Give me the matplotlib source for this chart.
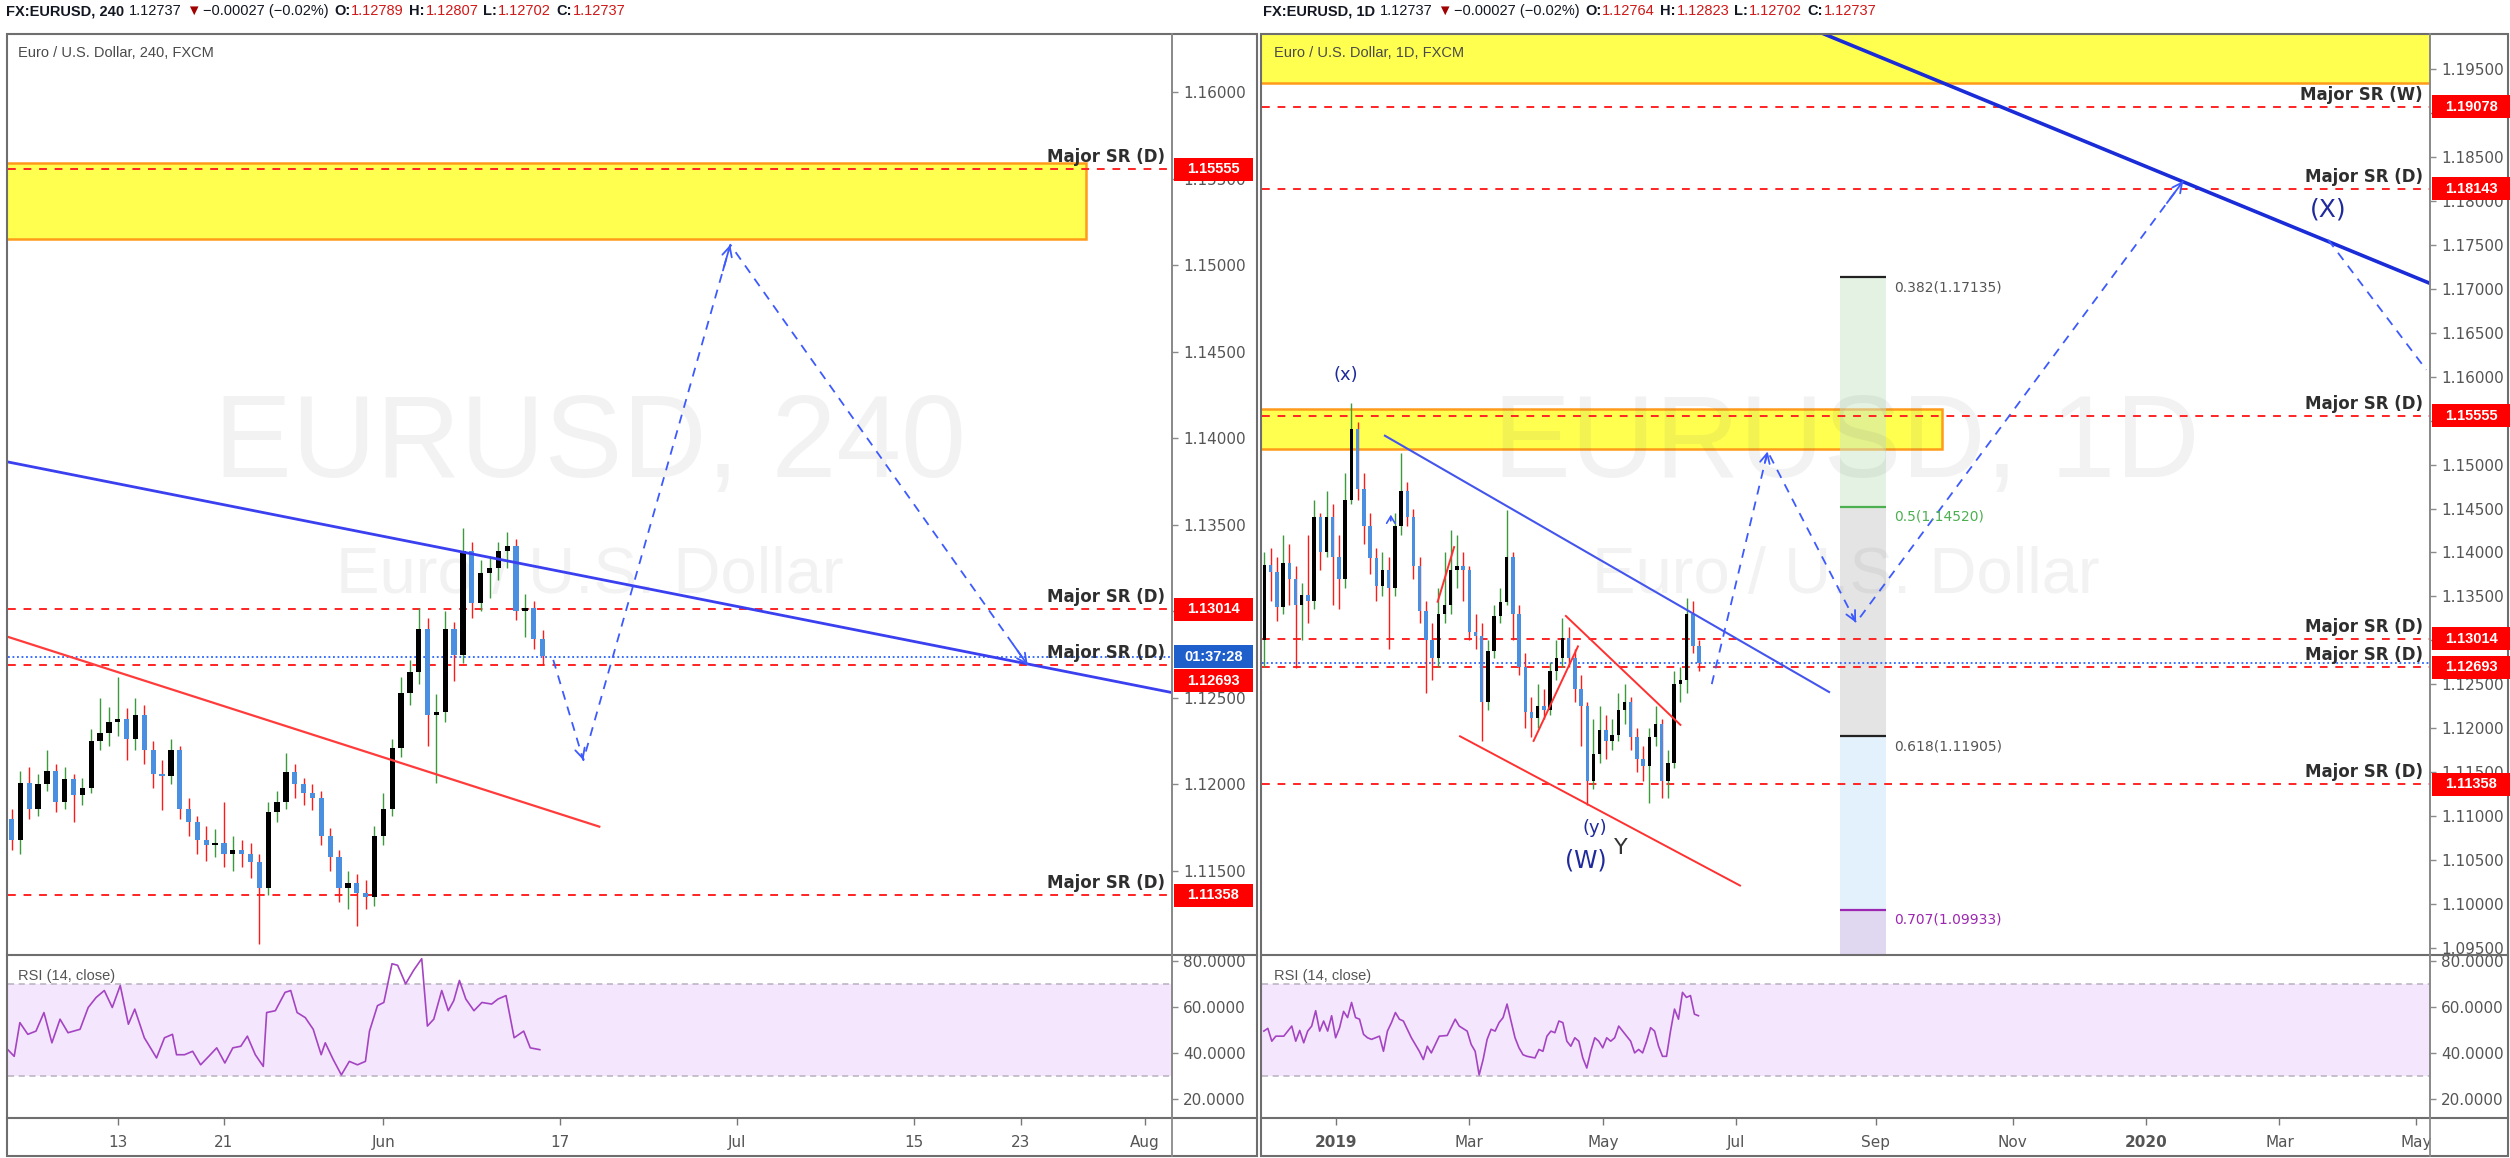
import numpy as np
import matplotlib
matplotlib.use('Agg')
import matplotlib.pyplot as plt
from matplotlib.patches import Rectangle
from matplotlib.lines import Line2D
from matplotlib.ticker import FormatStrFormatter

plt.rcParams['font.family'] = ['DejaVu Sans']

W, H, DPI = 2510, 1158, 100

# ======================= DATA =======================
# ---- left chart (4h), x = trading days from 13 May 2019 ----
left_days = np.arange(-6.0, 24.01, 0.5)
left_open0 = 1.1180
left_close = [1.1168, 1.1201, 1.1186, 1.1200, 1.1208, 1.1190, 1.1203, 1.1194, 1.1198, 1.1225,
              1.1230, 1.1236, 1.1238, 1.1226, 1.1240, 1.1220, 1.1206, 1.1205, 1.1220, 1.1186,
              1.1178, 1.1168, 1.1165, 1.1166, 1.1160, 1.1162, 1.1160, 1.1155, 1.1140, 1.1184,
              1.1190, 1.1207, 1.1200, 1.1195, 1.1192, 1.1170, 1.1158, 1.1140, 1.1143, 1.1137,
              1.1135, 1.1170, 1.1186, 1.1221, 1.1253, 1.1265, 1.1290, 1.1240, 1.1242, 1.1290,
              1.1275, 1.1335, 1.1305, 1.1322, 1.1325, 1.1335, 1.1338, 1.1300, 1.1302, 1.1284,
              1.1274]
left_high = [1.1186, 1.1208, 1.1210, 1.1206, 1.1220, 1.1212, 1.1210, 1.1206, 1.1204, 1.1232,
             1.1250, 1.1245, 1.1262, 1.1244, 1.1250, 1.1246, 1.1225, 1.1214, 1.1226, 1.1222,
             1.1192, 1.1182, 1.1176, 1.1174, 1.1190, 1.1170, 1.1168, 1.1166, 1.1160, 1.1190,
             1.1196, 1.1218, 1.1212, 1.1204, 1.1200, 1.1196, 1.1175, 1.1162, 1.1150, 1.1148,
             1.1145, 1.1176, 1.1195, 1.1226, 1.1262, 1.1272, 1.1302, 1.1296, 1.1252, 1.1300,
             1.1294, 1.1348, 1.1340, 1.1330, 1.1332, 1.1340, 1.1346, 1.1342, 1.1310, 1.1306,
             1.1289]
left_low = [1.1162, 1.1160, 1.1180, 1.1182, 1.1196, 1.1184, 1.1186, 1.1178, 1.1188, 1.1195,
            1.1220, 1.1222, 1.1228, 1.1214, 1.1220, 1.1212, 1.1198, 1.1185, 1.1200, 1.1180,
            1.1170, 1.1160, 1.1156, 1.1158, 1.1152, 1.1150, 1.1152, 1.1146, 1.1108, 1.1136,
            1.1178, 1.1186, 1.1192, 1.1188, 1.1185, 1.1165, 1.1150, 1.1132, 1.1128, 1.1118,
            1.1128, 1.1130, 1.1165, 1.1182, 1.1216, 1.1246, 1.1258, 1.1222, 1.1201, 1.1236,
            1.1260, 1.1270, 1.1296, 1.1300, 1.1308, 1.1318, 1.1325, 1.1295, 1.1285, 1.1278,
            1.1269]
left_rsi_days = [-6.21, -5.85, -5.53, -5.08, -4.62, -4.17, -3.72, -3.26, -2.81, -2.13,
                 -1.67, -1.22, -0.76, -0.31, 0.14, 0.60, 0.96, 1.50, 1.73, 2.19,
                 2.64, 3.09, 3.32, 3.77, 4.23, 4.68, 5.14, 5.59, 6.05, 6.50,
                 6.95, 7.32, 7.77, 8.22, 8.41, 8.90, 9.45, 9.77, 10.13, 10.59,
                 11.04, 11.49, 11.72, 12.17, 12.63, 13.08, 13.54, 13.99, 14.22, 14.67,
                 15.03, 15.49, 15.81, 16.26, 16.71, 17.17, 17.49, 17.85, 18.30, 18.67,
                 18.98, 19.30, 19.66, 20.12, 20.57, 21.12, 21.48, 21.93, 22.39, 22.93,
                 23.30, 23.84]
left_rsi = [41.3, 38.4, 53.1, 48.0, 49.4, 57.5, 44.3, 54.6, 48.7, 50.2,
            59.7, 64.1, 67.1, 59.7, 69.3, 52.4, 59.0, 46.5, 43.6, 37.7,
            46.5, 48.0, 39.1, 39.1, 40.6, 34.7, 38.4, 42.1, 35.5, 42.1,
            42.8, 47.2, 39.1, 34.0, 57.5, 58.3, 66.3, 67.1, 57.5, 55.3,
            50.2, 39.1, 44.3, 37.0, 30.3, 36.2, 34.7, 36.2, 49.4, 60.5,
            61.9, 78.8, 78.1, 70.0, 75.9, 81.0, 51.6, 54.6, 67.1, 58.3,
            62.7, 71.5, 63.4, 58.3, 61.9, 61.2, 63.4, 64.9, 46.5, 49.4,
            42.1, 41.3]
left_tick_days = [0, 6, 15, 25, 35, 45, 51, 58]
left_tick_labels = ['13', '21', 'Jun', '17', 'Jul', '15', '23', 'Aug']
left_xlim = (-6.2, 59.55)
left_ylim = (1.11014, 1.16338)
left_yticks = [1.115, 1.120, 1.125, 1.130, 1.135, 1.140, 1.145, 1.150, 1.155, 1.160]
left_levels = [1.15555, 1.13014, 1.12693, 1.11358]
left_level_names = ['Major SR (D)', 'Major SR (D)', 'Major SR (D)', 'Major SR (D)']
left_zone = (1.15153, 1.15592)
left_zone_end = 54.7
left_blue_trend = ([-6.2, 59.55], [1.13864, 1.12531])
left_red_trend = ([-6.2, 27.2], [1.12853, 1.11756])
left_proj_days = [24.6, 26.3, 34.6, 51.4]
left_proj_prices = [1.1272, 1.1214, 1.1512, 1.1269]
current_price = 1.12737
countdown = '01:37:28'

# ---- right chart (1D), x = trading days from 1 Jan 2019 ----
right_days = np.arange(-23, 117.1, 2)
right_open0 = 1.1300
right_close = [1.1386, 1.1378, 1.1338, 1.1388, 1.1370, 1.1340, 1.1352, 1.1345, 1.1440, 1.1400,
               1.1440, 1.1395, 1.1370, 1.1460, 1.1541, 1.1472, 1.1430, 1.1394, 1.1362, 1.1380,
               1.1360, 1.1430, 1.1470, 1.1440, 1.1385, 1.1333, 1.1300, 1.1280, 1.1330, 1.1340,
               1.1380, 1.1385, 1.1380, 1.1309, 1.1305, 1.1230, 1.1288, 1.1328, 1.1344, 1.1395,
               1.1330, 1.1270, 1.1218, 1.1211, 1.1225, 1.1220, 1.1265, 1.1280, 1.1303, 1.1280,
               1.1245, 1.1225, 1.1140, 1.1170, 1.1198, 1.1185, 1.1192, 1.1220, 1.1230, 1.1190,
               1.1165, 1.1157, 1.1190, 1.1205, 1.1140, 1.1160, 1.1250, 1.1255, 1.1330, 1.1293,
               1.1274]
right_high = [1.1400, 1.1405, 1.1395, 1.1420, 1.1410, 1.1384, 1.1365, 1.1420, 1.1460, 1.1445,
              1.1470, 1.1455, 1.1420, 1.1490, 1.1570, 1.1548, 1.1490, 1.1445, 1.1405, 1.1400,
              1.1395, 1.1445, 1.1513, 1.1480, 1.1450, 1.1395, 1.1345, 1.1320, 1.1360, 1.1400,
              1.1425, 1.1420, 1.1400, 1.1385, 1.1330, 1.1320, 1.1300, 1.1340, 1.1360, 1.1448,
              1.1400, 1.1340, 1.1285, 1.1235, 1.1250, 1.1245, 1.1275, 1.1300, 1.1325, 1.1315,
              1.1290, 1.1260, 1.1230, 1.1210, 1.1225, 1.1215, 1.1210, 1.1240, 1.1250, 1.1235,
              1.1200, 1.1180, 1.1200, 1.1225, 1.1210, 1.1175, 1.1265, 1.1270, 1.1348, 1.1345,
              1.1300]
right_low = [1.1269, 1.1345, 1.1322, 1.1330, 1.1340, 1.1268, 1.1300, 1.1320, 1.1335, 1.1380,
             1.1395, 1.1340, 1.1335, 1.1360, 1.1455, 1.1460, 1.1410, 1.1375, 1.1345, 1.1350,
             1.1290, 1.1350, 1.1420, 1.1430, 1.1370, 1.1320, 1.1240, 1.1255, 1.1270, 1.1320,
             1.1330, 1.1360, 1.1345, 1.1300, 1.1290, 1.1185, 1.1220, 1.1280, 1.1320, 1.1340,
             1.1300, 1.1260, 1.1200, 1.1190, 1.1200, 1.1210, 1.1215, 1.1255, 1.1270, 1.1270,
             1.1230, 1.1180, 1.1112, 1.1130, 1.1160, 1.1165, 1.1175, 1.1185, 1.1205, 1.1175,
             1.1150, 1.1140, 1.1115, 1.1180, 1.1120, 1.1120, 1.1155, 1.1230, 1.1240, 1.1285,
             1.1265]
right_rsi_days = [-23.21, -21.92, -20.64, -19.35, -16.78, -15.50, -14.21, -12.93, -11.65, -10.36,
                  -9.08, -7.79, -6.51, -5.22, -3.94, -2.65, -1.37, -0.08, 1.20, 2.48,
                  3.77, 5.05, 6.34, 7.62, 8.91, 10.19, 11.48, 14.05, 15.33, 16.61,
                  17.90, 19.18, 20.47, 21.75, 24.32, 26.89, 28.17, 29.46, 30.74, 33.31,
                  35.88, 38.45, 39.74, 42.30, 43.59, 44.87, 46.16, 47.44, 48.73, 50.01,
                  51.30, 52.58, 53.87, 55.15, 56.43, 57.72, 59.00, 60.29, 61.57, 64.14,
                  65.43, 66.71, 68.00, 69.28, 70.56, 71.85, 73.13, 74.42, 75.70, 76.99,
                  78.27, 79.55, 80.84, 82.12, 83.41, 84.69, 85.98, 87.26, 88.55, 89.83,
                  91.12, 92.40, 93.68, 94.97, 96.25, 97.54, 98.82, 100.11, 101.39, 102.68,
                  103.96, 105.24, 106.53, 107.81, 109.10, 110.38, 111.67, 112.95, 114.24, 115.52,
                  116.81]
right_rsi = [49.4, 50.6, 45.0, 47.2, 47.2, 49.4, 51.6, 45.0, 49.7, 44.3,
             49.4, 51.6, 58.3, 49.4, 53.8, 49.4, 56.1, 46.5, 50.9, 58.0,
             55.3, 61.9, 55.3, 54.6, 48.0, 46.5, 45.8, 47.2, 40.6, 49.4,
             53.1, 57.5, 54.6, 53.8, 46.5, 40.6, 37.0, 42.8, 39.9, 47.2,
             47.5, 54.6, 51.6, 49.4, 43.6, 40.6, 30.3, 37.0, 45.8, 50.2,
             49.4, 53.1, 55.3, 61.2, 53.8, 46.5, 42.1, 39.1, 38.4, 37.7,
             41.4, 40.6, 47.2, 49.4, 48.7, 53.8, 53.1, 45.0, 42.8, 46.5,
             45.0, 37.7, 33.3, 40.6, 46.5, 45.0, 42.1, 46.5, 45.0, 46.5,
             51.6, 49.4, 47.2, 45.0, 39.9, 41.4, 39.9, 45.0, 50.9, 49.4,
             42.8, 38.4, 38.4, 49.4, 59.0, 54.6, 66.3, 64.1, 64.9, 56.8,
             56.1]
right_tick_days = [0, 43, 86, 129, 174, 218, 261, 304, 348]
right_tick_labels = ['2019', 'Mar', 'May', 'Jul', 'Sep', 'Nov', '2020', 'Mar', 'May']
right_xlim = (-23.8, 352.5)
right_ylim = (1.09415, 1.19904)
right_yticks = [1.095 + 0.005 * i for i in range(21)]
right_levels = [1.19078, 1.18143, 1.15555, 1.13014, 1.12693, 1.11358]
right_level_names = ['Major SR (W)', 'Major SR (D)', 'Major SR (D)', 'Major SR (D)',
                     'Major SR (D)', 'Major SR (D)']
right_top_zone = (1.19346, 1.2100)
right_zone = (1.15178, 1.15633)
right_zone_end = 195.3
right_thick_trend = ([155.0, 352.5], [1.19937, 1.17064])
right_thin_trend = ([15.8, 158.9], [1.15329, 1.12410])
right_red_lines = [([40.0, 130.2], [1.11906, 1.10206]),
                   ([74.1, 111.0], [1.13276, 1.12036]),
                   ([32.8, 38.1], [1.13438, 1.14061]),
                   ([63.7, 78.0], [1.11853, 1.12930])]
fib_x = (162.3, 177.2)
fib_ratios = ['0.382', '0.5', '0.618', '0.707']
fib_prices = [1.17135, 1.14520, 1.11905, 1.09933]
right_proj1_days = [121.1, 139.1, 167.6, 273.0]
right_proj1_prices = [1.1250, 1.1515, 1.1320, 1.1823]
right_proj2_days = [319.7, 351.3]
right_proj2_prices = [1.1756, 1.1608]
wave_labels = [('(x)', 3.1, 1.16020, 13, '#1f2a9c'),
               ('(y)', 83.4, 1.10857, 13, '#1f2a9c'),
               ('(W)', 80.5, 1.10491, 17, '#1f2a9c'),
               ('Y', 91.8, 1.10633, 16, '#333333'),
               ('(X)', 319.7, 1.17900, 18, '#1f2a9c')]

# ======================= STYLE =======================
RED = '#ff2424'
PROJ = '#3d5afe'
GRAY_TXT = '#555555'
FRAME = '#6e6e6e'
SANS = ['Liberation Sans', 'DejaVu Sans']
MAIN_TOP, MAIN_BOT, RSI_BOT, PANEL_BOT = 34, 955, 1118, 1156

fig = plt.figure(figsize=(W / DPI, H / DPI), dpi=DPI)
fig.patch.set_facecolor('white')
renderer = fig.canvas.get_renderer()

# overlay in pixel coordinates (top-left origin) for frames, labels and boxes
ov = fig.add_axes([0, 0, 1, 1])
ov.set_xlim(0, W)
ov.set_ylim(H, 0)
ov.axis('off')
ov.patch.set_alpha(0)
ov.set_zorder(30)


def px_axes(x0, x1, y0, y1):
    return fig.add_axes([x0 / W, 1 - y1 / H, (x1 - x0) / W, (y1 - y0) / H])


def style_axes(ax):
    for s in ['left', 'top', 'bottom']:
        ax.spines[s].set_visible(False)
    ax.spines['right'].set_color('#8a8a8a')
    ax.spines['right'].set_linewidth(1.3)
    ax.yaxis.tick_right()
    ax.tick_params(axis='y', direction='out', length=4, width=1, color='#8a8a8a',
                   labelcolor=GRAY_TXT, labelsize=11, pad=4)


def price_ticks(ax, ticks, levels):
    # tick labels that sit completely under a price box are left blank
    ax.set_yticks(ticks)
    y_t = [ax.transData.transform((0, t))[1] for t in ticks]
    y_l = [ax.transData.transform((0, p))[1] for p in levels]
    labels = []
    for t, yt in zip(ticks, y_t):
        covered = any(abs(yt - yl) < 8 for yl in y_l)
        labels.append('' if covered else '%.5f' % t)
    ax.set_yticklabels(labels)


def candles(ax, x, open0, close, high, low, width):
    c = np.array(close)
    o = np.concatenate([[open0], c[:-1]])
    up = c >= o
    wick = np.where(up, '#3c9a3c', '#ff1a1a')
    body = np.where(up, '#000000', '#4a8fe0')
    ax.vlines(x, low, high, colors=wick, lw=1.0, zorder=4)
    hgt = np.maximum(np.abs(c - o), 0.00005)
    ax.bar(x, hgt, bottom=np.minimum(o, c), width=width, color=body, zorder=5, linewidth=0)


def price_box(ax, xa, price, text, fc, dy=0):
    # vertical pixel position of the price through the axes transform
    ypx = H - ax.transData.transform((0, price))[1] + dy
    ov.add_patch(Rectangle((xa + 2, ypx - 11.5), 79, 23, fc=fc, ec='none', zorder=5))
    ov.text(xa + 41.5, ypx, text, ha='center', va='center', fontsize=10.5,
            fontweight='bold', color='white', zorder=6, family=SANS)


def level(ax, price, name):
    ax.axhline(price, color=RED, lw=1.4, dashes=(4, 4), zorder=3)
    ax.annotate(name, xy=(1, price), xycoords=('axes fraction', 'data'),
                xytext=(-7, 3), textcoords='offset pixels', ha='right', va='bottom',
                fontsize=12, fontweight='bold', color='#2e2e2e', zorder=12,
                annotation_clip=False)


def projection(ax, xs, ys, heads):
    ax.plot(xs, ys, color=PROJ, lw=1.3, dashes=(5, 4), zorder=6)
    for i in heads:
        x1, y1, x0, y0 = xs[i], ys[i], xs[i - 1], ys[i - 1]
        ax.annotate('', xy=(x1, y1), xytext=(x1 - (x1 - x0) * 0.05, y1 - (y1 - y0) * 0.05),
                    arrowprops=dict(arrowstyle='->,head_length=0.7,head_width=0.35',
                                    color=PROJ, lw=1.3, shrinkA=0, shrinkB=0), zorder=6)


def rsi_panel(ax, days, vals, xlim, ticks, labels, bold_labels=()):
    ax.set_xlim(*xlim)
    ax.set_ylim(11.5, 82.6)
    style_axes(ax)
    ax.axhspan(30, 70, color='#f3e6fd', zorder=0, lw=0)
    for v in (30, 70):
        ax.axhline(v, color='#b8b0bf', lw=1.1, dashes=(4, 3), zorder=1)
    ax.plot(days, vals, color='#a544c2', lw=1.2, zorder=3)
    ax.set_yticks([20, 40, 60, 80])
    ax.yaxis.set_major_formatter(FormatStrFormatter('%.4f'))
    ax.set_xticks(ticks)
    ax.set_xticklabels(labels)
    ax.tick_params(axis='x', direction='out', length=5, width=1, color='#777777',
                   labelcolor=GRAY_TXT, labelsize=11, pad=7)
    for t in ax.get_xticklabels():
        if t.get_text() in bold_labels:
            t.set_fontweight('bold')


def watermark(ax, big):
    ax.text(0.5, 0.519, big, transform=ax.transAxes, ha='center', va='baseline',
            fontsize=84, family=SANS, color=(0.45, 0.45, 0.45), alpha=0.09, zorder=2)
    ax.text(0.5, 0.393, 'Euro / U.S. Dollar', transform=ax.transAxes, ha='center',
            va='baseline', fontsize=47, family=SANS, color=(0.45, 0.45, 0.45),
            alpha=0.09, zorder=2)


# ======================= LEFT PANEL =======================
XA_L, XA_R = 1172, 2430
axL = px_axes(8, XA_L, MAIN_TOP, MAIN_BOT)
axL.set_xlim(*left_xlim)
axL.set_ylim(*left_ylim)
style_axes(axL)
axL.set_xticks([])
price_ticks(axL, left_yticks, left_levels)

axL.add_patch(Rectangle((left_xlim[0] - 5, left_zone[0]), left_zone_end - left_xlim[0] + 5,
                        left_zone[1] - left_zone[0], fc='#ffff4f', ec='#ff9a1a', lw=1.8, zorder=1))
watermark(axL, 'EURUSD, 240')
for p, n in zip(left_levels, left_level_names):
    level(axL, p, n)
axL.axhline(current_price, color='#2962ff', lw=1.3, ls=(0, (1, 1.5)), zorder=3)
axL.plot(*left_blue_trend, color='#3a3ff0', lw=2.0, zorder=6)
axL.plot(*left_red_trend, color='#ff3b3b', lw=1.6, zorder=6)
candles(axL, left_days, left_open0, left_close, left_high, left_low, 0.30)
projection(axL, left_proj_days, left_proj_prices, [1, 2, 3])

axLr = px_axes(8, XA_L, MAIN_BOT, RSI_BOT)
rsi_panel(axLr, left_rsi_days, left_rsi, left_xlim, left_tick_days, left_tick_labels)

# ======================= RIGHT PANEL =======================
axR = px_axes(1262, XA_R, MAIN_TOP, MAIN_BOT)
axR.set_xlim(*right_xlim)
axR.set_ylim(*right_ylim)
style_axes(axR)
axR.set_xticks([])
price_ticks(axR, right_yticks, right_levels)

axR.add_patch(Rectangle((right_xlim[0] - 10, right_top_zone[0]), 400,
                        right_top_zone[1] - right_top_zone[0], fc='#ffff4f', ec='#ff9a1a',
                        lw=1.8, zorder=1))
axR.add_patch(Rectangle((right_xlim[0] - 10, right_zone[0]), right_zone_end - right_xlim[0] + 10,
                        right_zone[1] - right_zone[0], fc='#ffff4f', ec='#ff9a1a', lw=1.8,
                        zorder=1))
fib_fills = [(fib_prices[0], fib_prices[1], '#c8e6c9', 0.5),
             (fib_prices[1], fib_prices[2], '#c4c4c4', 0.45),
             (fib_prices[2], fib_prices[3], '#bbdefb', 0.4),
             (fib_prices[3], right_ylim[0] - 0.01, '#b39ddb', 0.4)]
for top, bot, col, a in fib_fills:
    axR.add_patch(Rectangle((fib_x[0], bot), fib_x[1] - fib_x[0], top - bot, fc=col,
                            alpha=a, ec='none', zorder=1.5))
fib_cols = ['#222222', '#4caf50', '#222222', '#9c27b0']
fib_txt_cols = ['#555555', '#4caf50', '#555555', '#9c27b0']
for r, p, lc, tc in zip(fib_ratios, fib_prices, fib_cols, fib_txt_cols):
    axR.hlines(p, fib_x[0], fib_x[1], color=lc, lw=1.6, zorder=2)
    axR.annotate('%s(%.5f)' % (r, p), xy=(fib_x[1], p), xytext=(8, -10),
                 textcoords='offset pixels', ha='left', va='center', fontsize=10,
                 color=tc, zorder=7)

watermark(axR, 'EURUSD, 1D')
for p, n in zip(right_levels, right_level_names):
    level(axR, p, n)
axR.axhline(current_price, color='#2962ff', lw=1.3, ls=(0, (1, 1.5)), zorder=3)
axR.plot(*right_thick_trend, color='#1a2bd8', lw=2.6, zorder=6)
axR.plot(*right_thin_trend, color='#4455ee', lw=1.5, zorder=6)
for xs, ys in right_red_lines:
    axR.plot(xs, ys, color='#ff3030', lw=1.4, zorder=6)
candles(axR, right_days, right_open0, right_close, right_high, right_low, 1.1)
projection(axR, right_proj1_days, right_proj1_prices, [1, 2, 3])
projection(axR, right_proj2_days, right_proj2_prices, [])
axR.annotate('', xy=(17.7, 1.1443), xytext=(17.7, 1.1436),
             arrowprops=dict(arrowstyle='->,head_length=0.5,head_width=0.3', color=PROJ,
                             lw=1.2, shrinkA=0, shrinkB=0), zorder=7)
for s, x, y, fs, col in wave_labels:
    axR.text(x, y, s, ha='center', va='center', fontsize=fs, color=col, zorder=8)

axRr = px_axes(1262, XA_R, MAIN_BOT, RSI_BOT)
rsi_panel(axRr, right_rsi_days, right_rsi, right_xlim, right_tick_days, right_tick_labels,
          bold_labels=('2019', '2020'))

# ---- price boxes on the right scales ----
price_box(axL, XA_L, left_levels[0], '%.5f' % left_levels[0], '#ff0000')
price_box(axL, XA_L, left_levels[1], '%.5f' % left_levels[1], '#ff0000')
price_box(axL, XA_L, current_price, countdown, '#1f5fcc')
price_box(axL, XA_L, left_levels[2], '%.5f' % left_levels[2], '#ff0000', dy=16)
price_box(axL, XA_L, left_levels[3], '%.5f' % left_levels[3], '#ff0000')
for p in right_levels:
    price_box(axR, XA_R, p, '%.5f' % p, '#ff0000')

# ======================= frames & texts =======================
for xl, xa, xr in [(7, XA_L, 1257), (1261, XA_R, 2508)]:
    ov.add_patch(Rectangle((xl, MAIN_TOP), xr - xl, PANEL_BOT - MAIN_TOP, fill=False,
                           ec=FRAME, lw=1.5))
    for yy in (MAIN_BOT, RSI_BOT):
        ov.add_line(Line2D([xl, xr], [yy, yy], color=FRAME, lw=1.5))
    ov.add_line(Line2D([xa, xa], [MAIN_TOP, PANEL_BOT], color='#8a8a8a', lw=1.3))

ov.text(18, 53, 'Euro / U.S. Dollar, 240, FXCM', fontsize=10.5, color='#4a4a4a',
        ha='left', va='center', family=SANS)
ov.text(1274, 53, 'Euro / U.S. Dollar, 1D, FXCM', fontsize=10.5, color='#4a4a4a',
        ha='left', va='center', family=SANS)
ov.text(18, 976, 'RSI (14, close)', fontsize=10.5, color=GRAY_TXT, ha='left', va='center',
        family=SANS)
ov.text(1274, 976, 'RSI (14, close)', fontsize=10.5, color=GRAY_TXT, ha='left', va='center',
        family=SANS)


def header(x_px, y_px, pieces):
    x = x_px
    for s, col, wt, gap in pieces:
        t = fig.text(x / W, 1 - y_px / H, s, color=col, fontweight=wt, fontsize=10.5,
                     ha='left', va='center', family=SANS)
        x += t.get_window_extent(renderer).width + gap


def header_pieces(tf, o, h, l, c):
    blk, red = '#131722', '#d01818'
    return [('FX:EURUSD, ' + tf, blk, 'bold', 5), ('1.12737', blk, 'normal', 4),
            ('\u25bc', '#a00000', 'normal', 3), ('\u22120.00027 (\u22120.02%)', blk, 'normal', 5),
            ('O:', blk, 'bold', 1), (o, red, 'normal', 5), ('H:', blk, 'bold', 1),
            (h, red, 'normal', 5), ('L:', blk, 'bold', 1), (l, red, 'normal', 5),
            ('C:', blk, 'bold', 1), (c, red, 'normal', 0)]


header(6, 11, header_pieces('240', '1.12789', '1.12807', '1.12702', '1.12737'))
header(1263, 11, header_pieces('1D', '1.12764', '1.12823', '1.12702', '1.12737'))

fig.savefig('out.png', dpi=DPI, facecolor='white')
